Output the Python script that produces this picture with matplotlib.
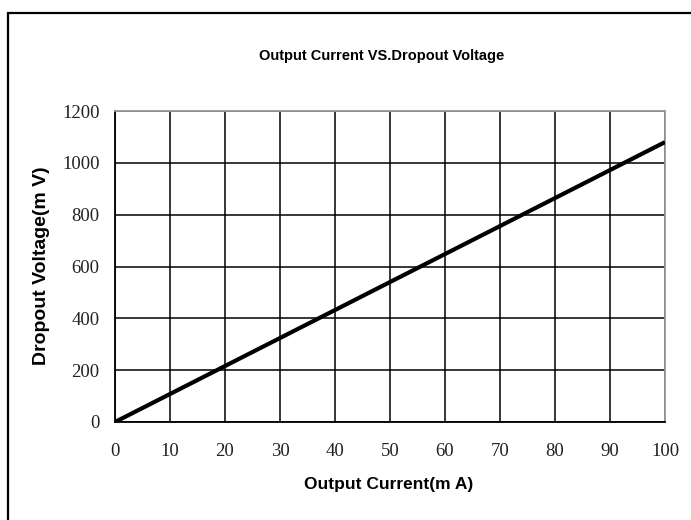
import matplotlib
matplotlib.use("Agg")
import matplotlib.pyplot as plt
from matplotlib.patches import Rectangle

# datos
corriente = [0, 10, 20, 30, 40, 50, 60, 70, 80, 90, 100]          # mA
caida = [0, 108, 216, 324, 432, 540, 648, 756, 864, 972, 1080]    # mV
xticks = [0, 10, 20, 30, 40, 50, 60, 70, 80, 90, 100]
yticks = [0, 200, 400, 600, 800, 1000, 1200]

fig = plt.figure(figsize=(6.91, 5.20), dpi=100)
ax = fig.add_axes([115 / 691, 1 - 422 / 520, 550 / 691, 311 / 520])

ax.plot(corriente, caida, color="black", lw=3.0, solid_capstyle="butt", zorder=3)

ax.set_xlim(0, 100)
ax.set_ylim(0, 1200)
ax.set_xticks(xticks)
ax.set_yticks(yticks)
ax.grid(True, color="black", lw=1.1)
ax.set_axisbelow(True)

serif = {"family": "Liberation Serif", "size": 13.5}
ax.set_xticklabels([str(v) for v in xticks], fontdict=serif)
ax.set_yticklabels([str(v) for v in yticks], fontdict=serif)
ax.tick_params(axis="x", length=0, pad=15, colors="#222222")
ax.tick_params(axis="y", length=0, pad=11, colors="#222222")

ax.spines["left"].set_color("black")
ax.spines["bottom"].set_color("black")
ax.spines["top"].set_color("#999999")
ax.spines["right"].set_color("#999999")
for s in ax.spines.values():
    s.set_linewidth(1.3)

bold = {"family": "Liberation Sans", "weight": "bold", "size": 10.5}
fig.text(382 / 691, 1 - 56 / 520, "Output Current VS.Dropout Voltage",
         ha="center", va="center", fontdict=bold)
fig.text(389 / 691, 1 - 485 / 520, "Output Current(m A)", ha="center", va="center",
         family="Liberation Sans", weight="bold", size=12.5)
fig.text(42 / 691, 1 - 266 / 520, "Dropout Voltage(m V)", ha="center", va="center",
         rotation=90, family="Liberation Sans", weight="bold", size=14)

# marco exterior (bordes derecho/inferior fuera de la imagen)
fig.patches.append(Rectangle((8 / 691, -0.1), 1.1, 1 - 13 / 520 + 0.1,
                             transform=fig.transFigure, fill=False,
                             ec="black", lw=1.6))

fig.savefig("out.png", dpi=100)
